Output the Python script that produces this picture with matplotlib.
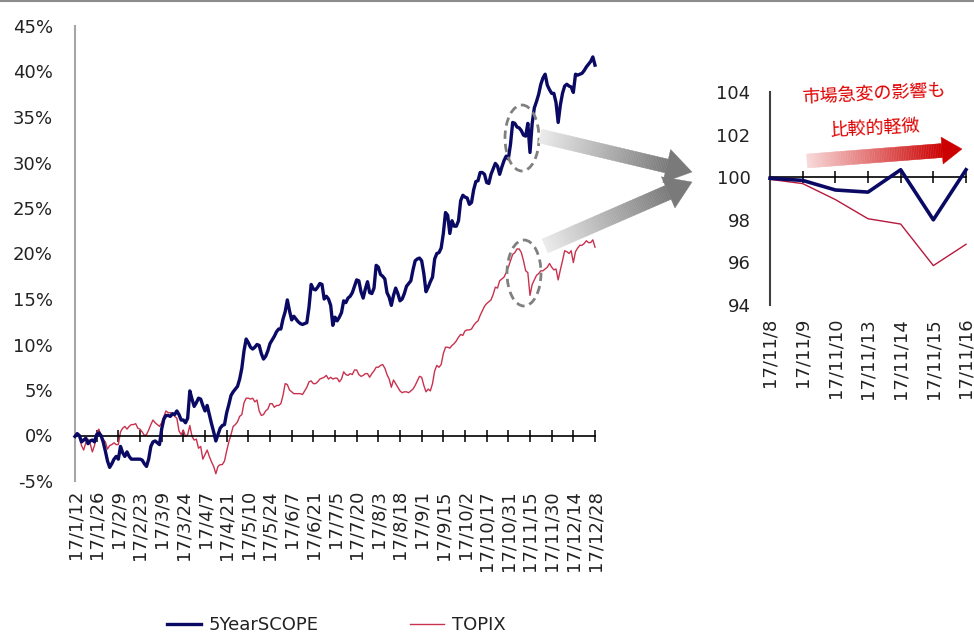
import numpy as np
import pandas as pd
import matplotlib
matplotlib.use("Agg")
import matplotlib.pyplot as plt
from matplotlib.patches import Polygon, Ellipse
from matplotlib.colors import to_rgb

plt.rcParams['font.family'] = ['DejaVu Sans', 'Noto Sans CJK JP']

# TSE trading days, 2017/1/12 - 2017/12/28
jp_holidays = ["2017-03-20", "2017-05-03", "2017-05-04", "2017-05-05", "2017-07-17",
               "2017-08-11", "2017-09-18", "2017-10-09", "2017-11-03", "2017-11-23"]
days = pd.bdate_range("2017-01-12", "2017-12-28", freq="C", holidays=jp_holidays)
day_labels = [f"{d.year % 100}/{d.month}/{d.day}" for d in days]

# cumulative return (%)
scope = [
    -0.1, 0.2, 0.0, -0.7, -0.5, -0.3, -0.9, -0.6, -0.5, -0.7,
    0.1, 0.3, 0.0, -0.7, -1.7, -2.8, -3.5, -3.1, -2.6, -2.3,
    -2.6, -1.2, -1.9, -2.3, -1.8, -2.3, -2.6, -2.6, -2.6, -2.6,
    -2.6, -2.7, -3.1, -3.4, -2.6, -1.2, -0.7, -0.6, -0.8, -1.0,
    0.7, 1.8, 2.2, 2.2, 2.1, 2.4, 2.3, 2.7, 2.3, 1.7,
    1.7, 1.4, 1.9, 4.9, 4.0, 3.2, 3.6, 4.1, 4.0, 3.3,
    2.7, 3.3, 2.3, 1.3, 0.4, -0.6, 0.1, 0.8, 1.1, 1.2,
    2.5, 3.4, 4.4, 4.8, 5.1, 5.4, 6.2, 7.4, 9.3, 10.6,
    10.2, 9.7, 9.5, 9.7, 10.0, 9.9, 9.0, 8.4, 8.7, 9.3,
    10.1, 10.5, 10.9, 11.4, 11.7, 11.7, 12.8, 13.6, 14.9, 13.7,
    12.7, 13.1, 12.8, 12.5, 12.3, 12.2, 12.3, 12.4, 14.1, 16.6,
    16.1, 16.0, 16.3, 16.7, 16.6, 15.0, 15.3, 15.0, 14.3, 12.1,
    13.0, 12.6, 13.0, 13.5, 14.8, 14.6, 15.1, 15.3, 15.7, 16.4,
    17.1, 17.0, 15.8, 15.1, 16.1, 16.9, 15.7, 15.6, 16.2, 18.7,
    18.5, 17.7, 17.5, 17.2, 15.7, 15.2, 14.3, 15.4, 16.2, 15.6,
    14.8, 15.0, 15.6, 16.4, 16.7, 17.0, 18.2, 19.2, 19.4, 19.5,
    19.2, 17.8, 15.8, 16.3, 16.9, 17.4, 19.4, 20.0, 20.1, 20.6,
    22.2, 24.5, 24.2, 22.2, 23.6, 23.0, 23.0, 23.6, 25.8, 26.4,
    26.2, 26.1, 25.4, 25.6, 27.0, 27.9, 28.0, 28.9, 28.9, 28.7,
    27.8, 27.7, 28.7, 29.3, 29.9, 29.6, 28.7, 29.5, 30.2, 30.7,
    30.4, 32.0, 34.4, 34.3, 33.9, 33.8, 33.5, 33.0, 32.9, 34.3,
    31.1, 34.3, 36.0, 36.7, 37.5, 38.6, 39.3, 39.7, 38.5, 38.0,
    37.6, 37.6, 36.6, 34.4, 36.3, 37.6, 38.4, 38.6, 38.4, 38.3,
    37.7, 39.7, 39.6, 39.7, 39.8, 40.1, 40.5, 40.8, 41.1, 41.6,
    40.7,
]
topix = [
    -0.1, 0.3, -0.1, -1.1, -1.6, -0.8, -0.4, -0.9, -1.8, -1.1,
    0.3, 0.7, 0.0, -0.4, -0.7, -1.5, -1.1, -1.0, -0.8, -1.0,
    -1.0, 0.4, 0.8, 1.0, 0.7, 1.0, 1.2, 1.2, 1.3, 0.8,
    0.7, 0.4, 0.0, 0.1, 0.6, 1.2, 1.7, 1.4, 1.2, 1.0,
    1.4, 2.1, 2.7, 2.5, 2.5, 2.4, 2.1, 1.9, 0.5, 0.1,
    0.6, -0.1, 0.1, 1.1, -0.1, -0.5, -0.4, -1.4, -1.2, -2.6,
    -2.1, -1.6, -2.3, -2.9, -3.4, -4.2, -3.4, -3.2, -3.2, -2.8,
    -1.7, -0.7, 0.1, 1.0, 1.2, 1.5, 2.1, 2.3, 3.6, 4.1,
    4.1, 4.0, 4.1, 3.7, 3.9, 2.7, 2.2, 2.3, 2.7, 2.9,
    3.5, 3.5, 3.1, 3.3, 3.3, 3.5, 4.4, 5.7, 5.6, 5.0,
    4.8, 4.6, 4.6, 4.6, 4.6, 4.5, 4.9, 5.3, 5.9, 6.0,
    5.7, 5.7, 5.9, 6.2, 6.3, 6.4, 6.6, 6.2, 6.4, 6.2,
    6.3, 6.3, 5.9, 6.2, 7.0, 6.7, 6.6, 6.8, 6.7, 7.2,
    7.2, 6.7, 6.5, 6.6, 6.8, 6.8, 6.4, 6.8, 7.1, 7.5,
    7.5, 7.7, 7.8, 7.4, 6.7, 6.2, 5.3, 6.1, 5.7, 5.3,
    4.9, 4.7, 4.8, 4.8, 4.7, 4.9, 5.1, 5.5, 6.0, 6.5,
    6.4, 5.5, 4.8, 5.1, 4.9, 5.7, 7.1, 7.7, 7.5, 7.8,
    9.0, 9.7, 9.7, 9.6, 9.9, 10.1, 10.4, 10.8, 11.1, 11.0,
    11.5, 11.6, 11.6, 11.7, 12.1, 12.4, 12.6, 13.2, 13.7, 14.2,
    14.5, 14.7, 14.9, 15.5, 16.3, 16.2, 17.0, 17.2, 17.4, 17.9,
    18.5, 19.2, 19.9, 20.1, 20.5, 20.5, 20.1, 19.2, 18.1, 17.9,
    15.4, 16.6, 17.1, 17.6, 17.8, 18.1, 18.1, 18.3, 18.5, 18.9,
    18.5, 18.2, 18.3, 17.1, 18.2, 19.2, 20.3, 20.2, 20.0, 20.3,
    19.0, 20.2, 20.6, 20.9, 20.9, 21.1, 21.4, 21.2, 21.2, 21.5,
    20.7,
]

# close-up, 2017/11/8 = 100
zoom_labels = ["17/11/8", "17/11/9", "17/11/10", "17/11/13", "17/11/14", "17/11/15", "17/11/16"]
zoom_scope = [99.95, 99.85, 99.4, 99.3, 100.35, 98.0, 100.35]
zoom_topix = [99.9, 99.7, 98.95, 98.05, 97.8, 95.85, 96.85]

NAVY = "#0a0a64"
RED = "#c8324e"
TXT = "#222222"

W, H = 974, 635
fig = plt.figure(figsize=(W / 100, H / 100), dpi=100)


def px_box(x0, y0, x1, y1):
    return [x0 / W, 1 - y1 / H, (x1 - x0) / W, (y1 - y0) / H]


# main chart
ax = fig.add_axes(px_box(75, 26, 595, 481))
x = np.arange(len(scope))
line_scope, = ax.plot(x, scope, color=NAVY, lw=2.4, clip_on=False, zorder=3)
line_topix, = ax.plot(x, topix, color=RED, lw=1.0, clip_on=False, zorder=2)
ax.set_xlim(0, len(scope) - 1)
ax.set_ylim(-5, 45)
ax.set_yticks(range(-5, 46, 5))
ax.set_yticklabels([f"{v}%" for v in range(-5, 46, 5)])
ax.tick_params(axis='y', length=0, pad=16, labelsize=13, labelcolor=TXT)
for s in ['top', 'right']:
    ax.spines[s].set_visible(False)
ax.spines['left'].set_color('#a6a6a6')
ax.spines['left'].set_linewidth(1.5)
ax.spines['bottom'].set_position(('data', 0))
ax.spines['bottom'].set_linewidth(1.2)
tick_idx = list(range(0, len(days), 10))
ax.set_xticks(tick_idx)
ax.tick_params(axis='x', direction='inout', length=8, width=1.1, labelbottom=False)
for i in tick_idx:
    ax.text(i, -0.02, day_labels[i], transform=ax.get_xaxis_transform(), rotation=90,
            ha='center', va='top', fontsize=13, color=TXT)

# close-up chart
ins = fig.add_axes(px_box(770, 92, 966, 305))
xi = np.arange(len(zoom_labels))
ins.plot(xi, zoom_scope, color=NAVY, lw=2.6, clip_on=False, zorder=3)
ins.plot(xi, zoom_topix, color="#b8183c", lw=1.0, clip_on=False, zorder=2)
ins.set_xlim(0, len(zoom_labels) - 1)
ins.set_ylim(94, 104)
ins.set_yticks(range(94, 105, 2))
ins.tick_params(axis='y', length=0, pad=14, labelsize=13, labelcolor=TXT)
for s in ['top', 'right']:
    ins.spines[s].set_visible(False)
ins.spines['left'].set_color('#404040')
ins.spines['left'].set_linewidth(1.5)
ins.spines['bottom'].set_position(('data', 100))
ins.spines['bottom'].set_linewidth(1.2)
ins.set_xticks(xi)
ins.tick_params(axis='x', direction='inout', length=8, width=1.1, labelbottom=False)
for i, lab in enumerate(zoom_labels):
    ins.text(i, -0.06, lab, transform=ins.get_xaxis_transform(), rotation=90,
             ha='center', va='top', fontsize=13, color=TXT)

# annotation layer in pixel coordinates
ov = fig.add_axes([0, 0, 1, 1], zorder=5)
ov.set_xlim(0, W)
ov.set_ylim(H, 0)
ov.axis('off')
ov.plot([0, W], [1, 1], color='#8c8c8c', lw=1.5)


def gradient_arrow(start, tip, body, head_w, head_l, c0, c1, n=80):
    p0 = np.array(start, float)
    p1 = np.array(tip, float)
    u = (p1 - p0) / np.hypot(*(p1 - p0))
    nrm = np.array([-u[1], u[0]])
    base = p1 - u * head_l
    rgb0, rgb1 = np.array(to_rgb(c0)), np.array(to_rgb(c1))
    ts = np.linspace(0, 1, n + 1)
    for k in range(n):
        a = p0 + (base - p0) * ts[k]
        b = p0 + (base - p0) * ts[k + 1]
        col = rgb0 + (rgb1 - rgb0) * (ts[k] + ts[k + 1]) / 2
        quad = [a + nrm * body / 2, b + nrm * body / 2, b - nrm * body / 2, a - nrm * body / 2]
        ov.add_patch(Polygon(quad, closed=True, fc=col, ec=col, lw=0.3))
    ov.add_patch(Polygon([base + nrm * head_w / 2, p1, base - nrm * head_w / 2],
                         closed=True, fc=rgb1, ec=rgb1, lw=0.3))


for cx, cy in [(522, 138), (524, 273)]:
    ov.add_patch(Ellipse((cx, cy), 34, 66, fill=False, ec='#808080', lw=2.0,
                         ls=(0, (3, 1.8))))

gradient_arrow((540, 136), (692, 172), 14, 34, 26, '#ececec', '#7a7a7a')
gradient_arrow((545, 246), (692, 182), 15, 34, 26, '#ececec', '#7a7a7a')
gradient_arrow((807, 161), (962, 149), 14, 27, 20, '#f8dada', '#cc0000')

jp = ['Noto Sans CJK JP', 'DejaVu Sans']
ov.text(874, 94, "市場急変の影響も", color='#e00000', fontsize=13, ha='center', va='center',
        rotation=3, family=jp)
ov.text(875, 128, "比較的軽微", color='#e00000', fontsize=13, ha='center', va='center',
        rotation=3, family=jp)

fig.legend([line_scope, line_topix], ["5YearSCOPE", "TOPIX"], loc='center',
           bbox_to_anchor=(336 / W, 10 / H), ncol=2, frameon=False, fontsize=13,
           handlelength=1.9, handletextpad=0.4, columnspacing=5.1, labelcolor=TXT)

fig.savefig("out.png", dpi=100)
